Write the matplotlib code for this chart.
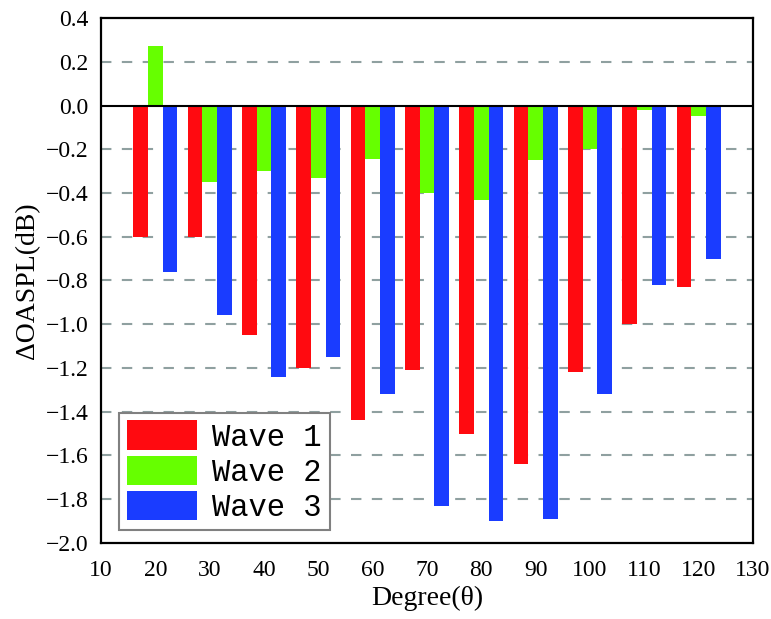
import numpy as np
import matplotlib
matplotlib.use('Agg')
import matplotlib.pyplot as plt

degrees = [20, 30, 40, 50, 60, 70, 80, 90, 100, 110, 120]
wave1 = [-0.60, -0.60, -1.05, -1.20, -1.44, -1.21, -1.50, -1.64, -1.22, -1.00, -0.83]
wave2 = [0.27, -0.35, -0.30, -0.33, -0.245, -0.40, -0.43, -0.25, -0.20, -0.02, -0.05]
wave3 = [-0.76, -0.96, -1.24, -1.15, -1.32, -1.83, -1.90, -1.89, -1.32, -0.82, -0.70]
series_names = ['Wave 1', 'Wave 2', 'Wave 3']
colors = ['#ff0a10', '#66ff00', '#1a3cff']

plt.rcParams['font.family'] = ['Liberation Serif', 'DejaVu Serif']

fig = plt.figure(figsize=(7.71, 6.19), dpi=100)
ax = fig.add_axes([0.131, 0.1228, 0.8457, 0.8481])

x = np.array(degrees)
w = 2.7
for k, (vals, name, c) in enumerate(zip([wave1, wave2, wave3], series_names, colors)):
    ax.bar(x + (k - 1) * w, vals, width=w, color=c, label=name, zorder=2)

# dashed grid at inner ticks, solid zero line
for yv in [0.2, -0.2, -0.4, -0.6, -0.8, -1.0, -1.2, -1.4, -1.6, -1.8]:
    ax.axhline(yv, color='#8fa0a0', lw=1.5, ls=(0, (5, 5)), zorder=1)
ax.axhline(0, color='black', lw=1.5, zorder=3)

ax.set_xlim(10, 130)
ax.set_ylim(-2.0, 0.4)
ax.set_xticks(np.arange(10, 131, 10))
yt = np.round(np.arange(-2.0, 0.41, 0.2), 1)
ax.set_yticks(yt)
ax.set_yticklabels([('%.1f' % abs(v)) if v >= 0 else '\u2212%.1f' % abs(v) for v in yt])
ax.tick_params(length=0, labelsize=17)
ax.tick_params(axis='y', pad=9)
ax.tick_params(axis='x', pad=12)

for s in ax.spines.values():
    s.set_linewidth(1.6)
    s.set_color('black')

ax.set_xlabel('Degree(θ)', fontsize=20, labelpad=4)
ax.set_ylabel('ΔOASPL(dB)', fontsize=20, labelpad=4)

leg = ax.legend(loc='lower left', bbox_to_anchor=(0.028, 0.024),
                prop={'family': 'Liberation Mono', 'size': 22},
                handlelength=2.3, handleheight=1.1, labelspacing=0.1,
                handletextpad=0.5, borderpad=0.25, borderaxespad=0,
                fancybox=False, framealpha=1, edgecolor='#808080')
leg.get_frame().set_linewidth(1.5)

fig.savefig('out.png', dpi=100)
